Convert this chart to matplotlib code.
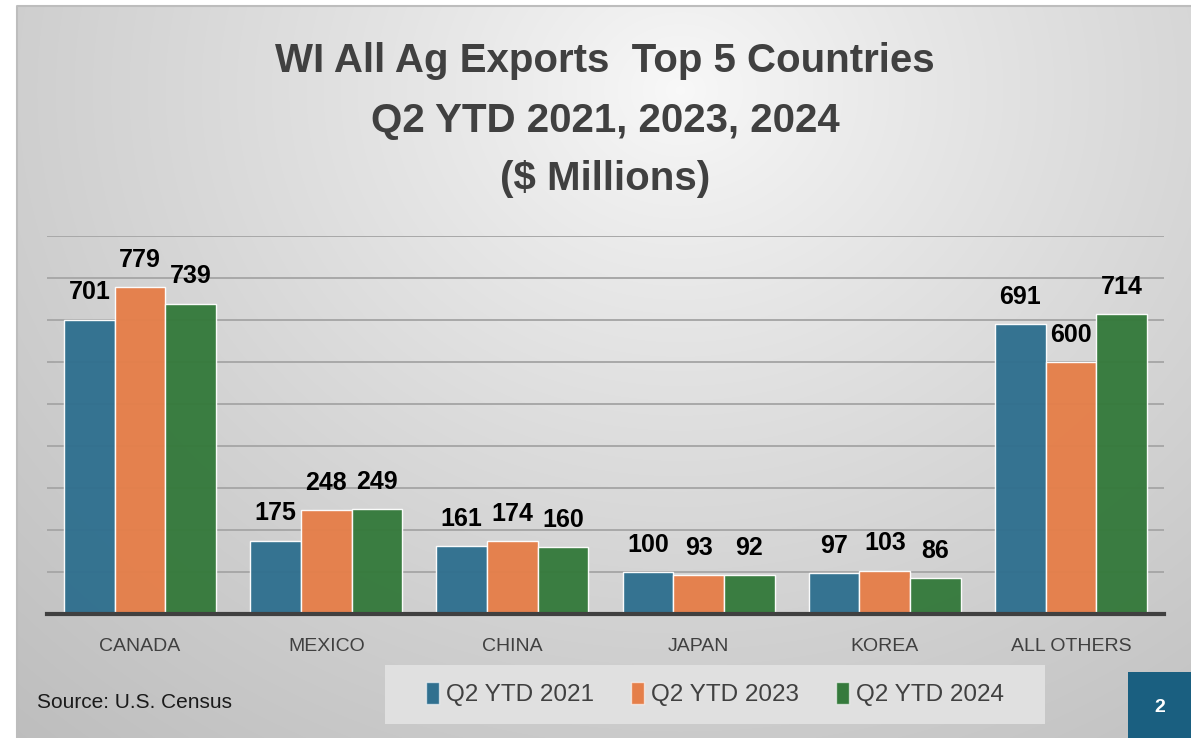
import numpy as np
import matplotlib
matplotlib.use("Agg")
from matplotlib import pyplot as plt
from matplotlib.patches import Rectangle, Patch

# chart data
countries = ["CANADA", "MEXICO", "CHINA", "JAPAN", "KOREA", "ALL OTHERS"]
series_names = ["Q2 YTD 2021", "Q2 YTD 2023", "Q2 YTD 2024"]
ytd_2021 = [701, 175, 161, 100, 97, 691]
ytd_2023 = [779, 248, 174, 93, 103, 600]
ytd_2024 = [739, 249, 160, 92, 86, 714]
title_lines = ["WI All Ag Exports  Top 5 Countries", "Q2 YTD 2021, 2023, 2024", "($ Millions)"]
source_note = "Source: U.S. Census"
page_no = "2"

colors = ["#30708f", "#e57f4a", "#357a3c"]
plt.rcParams['font.family'] = ['Liberation Sans', 'DejaVu Sans']

W, H = 1191, 738
fig = plt.figure(figsize=(W / 100, H / 100), dpi=100)
fig.patch.set_facecolor("white")

# slide background gradient
px0, py0 = 17, 6
bg = fig.add_axes([px0 / W, 0, 1 - px0 / W, (H - py0) / H])
yy, xx = np.mgrid[py0:H, px0:W]
d = np.hypot(xx - 680, (yy - 90) * 1.15)
v = 0.975 - 0.21 * np.clip(d / 890, 0, 1.3) ** 0.85
bg.imshow(np.dstack([v, v, v]), aspect="auto", extent=(0, 1, 0, 1))
bg.set_axis_off()
bg.set_zorder(0)
fig.add_artist(plt.Line2D([px0 / W, px0 / W, 1], [0, 1 - py0 / H, 1 - py0 / H],
                          color="#bdbdbd", lw=1.5, transform=fig.transFigure))

# main plot
ax = fig.add_axes([47 / W, (H - 614) / H, (1164 - 47) / W, (614 - 236) / H])
ax.set_zorder(2)
ax.patch.set_alpha(0)
x = np.arange(len(countries))
bw = 0.272
for i, vals in enumerate([ytd_2021, ytd_2023, ytd_2024]):
    bars = ax.bar(x + (i - 1) * bw, vals, bw, color=colors[i], alpha=0.97,
                  edgecolor=(1, 1, 1, 0.55), linewidth=1.0, zorder=2)
    for b, val in zip(bars, vals):
        ax.annotate(str(val), (b.get_x() + b.get_width() / 2, b.get_height()),
                    xytext=(0, 11), textcoords="offset points", ha="center", va="bottom",
                    fontsize=18, fontweight="bold", color="black", zorder=4)

ax.set_ylim(0, 900)
ax.set_xlim(-0.5, len(countries) - 0.5)
ax.set_yticks(np.arange(100, 901, 100))
ax.yaxis.grid(True, color="#a8a8a8", lw=1.4, zorder=1)
ax.set_axisbelow(True)
ax.tick_params(axis="y", left=False, labelleft=False)
ax.set_xticks(x)
ax.set_xticklabels(countries, fontsize=14, color="#404040")
ax.tick_params(axis="x", length=0, pad=17)
for s in ["top", "right", "left"]:
    ax.spines[s].set_visible(False)
ax.spines["bottom"].set_color("#404040")
ax.spines["bottom"].set_linewidth(3)
ax.spines["bottom"].set_zorder(3)

# title
for line, ybase in zip(title_lines, [72, 132, 190]):
    fig.text(605 / W, 1 - ybase / H, line, ha="center", va="baseline",
             fontsize=29, fontweight="bold", color="#404040", zorder=5)

# legend box
fig.add_artist(Rectangle((385 / W, 1 - 724 / H), (1045 - 385) / W, (724 - 665) / H,
                         transform=fig.transFigure, facecolor="#e0e0e0", edgecolor="none", zorder=3))
handles = [Patch(facecolor=c, edgecolor=(1, 1, 1, 0.6), label=n) for c, n in zip(colors, series_names)]
leg = fig.legend(handles=handles, loc="center", bbox_to_anchor=(715 / W, 1 - 694 / H), ncol=3,
                 frameon=False, fontsize=17.5, handlelength=0.55, handleheight=1.0,
                 handletextpad=0.3, columnspacing=1.5)
for t in leg.get_texts():
    t.set_color("#404040")
leg.set_zorder(4)

fig.text(37 / W, 1 - 703 / H, source_note, ha="left", va="center", fontsize=15, color="#1a1a1a")

# page number box
fig.add_artist(Rectangle((1128 / W, 0), (1191 - 1128) / W, (738 - 672) / H,
                         transform=fig.transFigure, facecolor="#1a5f80", edgecolor="none", zorder=3))
fig.text(1160 / W, 1 - 708 / H, page_no, ha="center", va="center", fontsize=14,
         fontweight="bold", color="white", zorder=4)

fig.savefig("out.png", dpi=100)
